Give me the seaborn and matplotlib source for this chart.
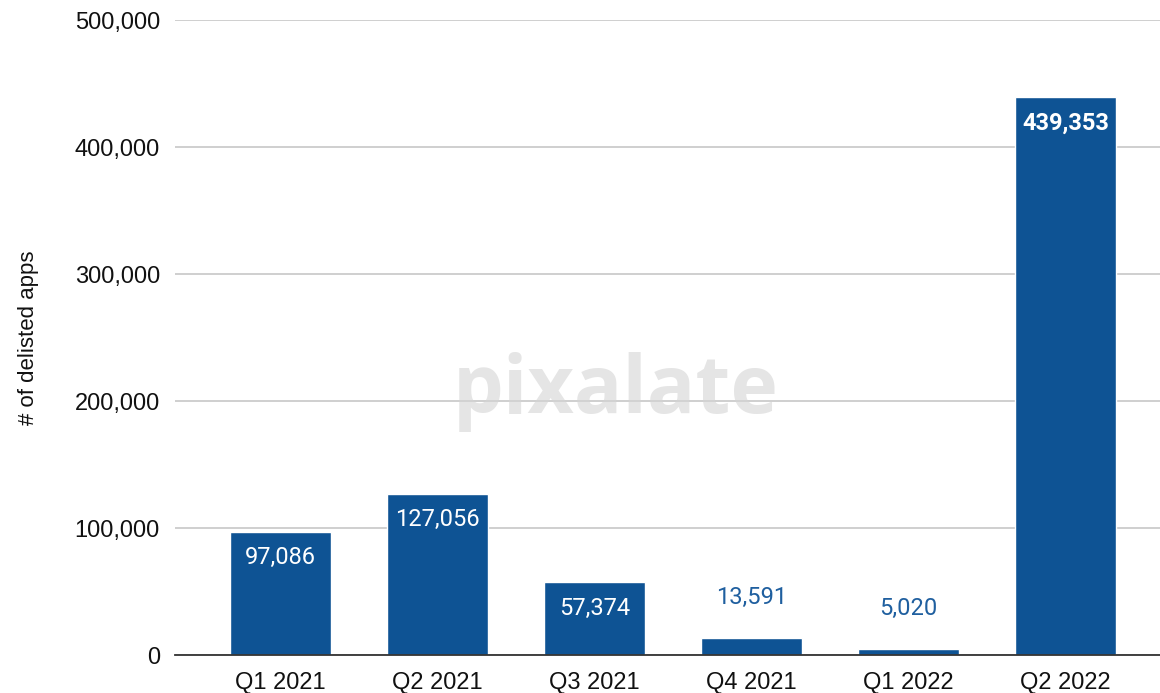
import matplotlib
matplotlib.use("Agg")
import matplotlib.pyplot as plt
import seaborn as sns
import pandas as pd
from matplotlib.ticker import FuncFormatter

# datos del grafico
trimestres = ["Q1 2021", "Q2 2021", "Q3 2021", "Q4 2021", "Q1 2022", "Q2 2022"]
apps_retiradas = [97086, 127056, 57374, 13591, 5020, 439353]
ticks_y = [0, 100000, 200000, 300000, 400000, 500000]

df = pd.DataFrame({"trimestre": trimestres, "apps": apps_retiradas})

sns.set_theme(style="white")
plt.rcParams["font.family"] = ["Liberation Sans", "DejaVu Sans"]

azul = "#0e5394"

fig = plt.figure(figsize=(11.6, 6.93), dpi=100)
ax = fig.add_axes([0.151, 0.0548, 0.849, 0.9163])

sns.barplot(data=df, x="trimestre", y="apps", color=azul, width=0.64,
            saturation=1, ax=ax, zorder=3)

ax.set_ylim(0, 500000)
ax.set_xlim(-0.67, 5.6)
ax.set_yticks(ticks_y)
ax.yaxis.set_major_formatter(FuncFormatter(lambda v, p: f"{int(v):,}"))
ax.grid(axis="y", color="#cccccc", linewidth=1.3, zorder=0)
ax.grid(axis="x", visible=False)
for s in ["top", "right", "left"]:
    ax.spines[s].set_visible(False)
ax.spines["bottom"].set_color("#333333")
ax.spines["bottom"].set_linewidth(1.3)
ax.spines["bottom"].set_zorder(4)
ax.tick_params(axis="y", labelsize=17, length=0, pad=11, labelcolor="#111111")
ax.tick_params(axis="x", labelsize=17, length=0, pad=12, labelcolor="#111111")
ax.set_xlabel("")
ax.set_ylabel("# of delisted apps", fontsize=16, labelpad=26, color="#111111")

# etiquetas de valores
for i, v in enumerate(apps_retiradas):
    if v > 40000:
        peso = "bold" if v == max(apps_retiradas) else "normal"
        ax.annotate(f"{v:,}", (i, v), xytext=(0, -26), textcoords="offset pixels",
                    ha="center", va="center", fontsize=17, color="white",
                    fontweight=peso, family="Roboto", zorder=5)
    else:
        ax.annotate(f"{v:,}", (i, v), xytext=(0, 40), textcoords="offset pixels",
                    ha="center", va="center", fontsize=17, color="#1f5f9f",
                    family="Roboto", zorder=5)

# marca de agua
fig.text(0.531, 0.434, "pixalate", ha="center", va="center", fontsize=58,
         fontweight="bold", color="#d4d4d4", alpha=0.6, family="Open Sans",
         zorder=10)

fig.savefig("out.png", dpi=100)
